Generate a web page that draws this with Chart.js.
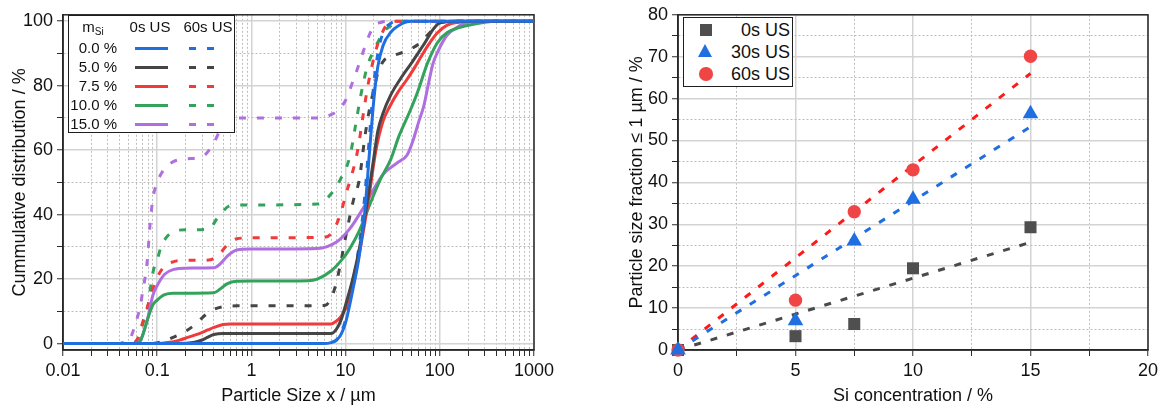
<!DOCTYPE html>
<html>
<head>
<meta charset="utf-8">
<title>Particle size distribution and sub-micron fraction</title>
<script src="https://cdn.jsdelivr.net/npm/chart.js@4.4.1/dist/chart.umd.min.js"></script>
<style>
  html, body { margin: 0; padding: 0; background: #fff; }
  #page { position: relative; width: 1163px; height: 407px; overflow: hidden;
          font-family: "Liberation Sans", Arial, sans-serif; color: #111; }
  canvas { position: absolute; top: 0; }
  #psd { left: 0; }
  #frac { left: 580px; }
  .box { position: absolute; background: #fff; border: 1.5px solid #1e1e1e; box-sizing: border-box; }
  .t { position: absolute; white-space: nowrap; }
</style>
</head>
<body>
<div id="page">
  <canvas id="psd" width="560" height="407"></canvas>
  <canvas id="frac" width="583" height="407"></canvas>
</div>
<script>
// ---------- Left panel: cumulative particle size distributions ----------
const sizeMajorTicks = [0.01, 0.1, 1, 10, 100, 1000];
const sizeTickLabels = ['0.01', '0.1', '1', '10', '100', '1000'];
const cumMajorTicks = [0, 20, 40, 60, 80, 100];
const cumMinorTicks = [10, 30, 50, 70, 90];

const siLabels = ['0.0 %', '5.0 %', '7.5 %', '10.0 %', '15.0 %'];
const siColors = ['#1f6fe0', '#454545', '#f03b3b', '#33a35c', '#b06fe0'];

// 0.0 % Si
const size_00_0s  = [0.01, 6, 7, 8, 9, 10, 12, 14, 16, 18, 20, 22, 25, 30, 40, 50, 1000];
const cum_00_0s   = [0, 0, 0.3, 1, 3, 6.5, 17, 27.5, 41, 60, 76, 86, 92.5, 96.5, 99.3, 100, 100];
const size_00_60s = [0.01, 6, 7, 8, 9, 10, 12, 14, 16, 18, 20, 22, 25, 30, 35, 1000];
const cum_00_60s  = [0, 0, 0.3, 1.2, 3.5, 7.5, 19, 31, 46, 65, 81, 90, 96.5, 99.3, 100, 100];

// 5.0 % Si
const size_05_0s  = [0.01, 0.15, 0.2, 0.25, 0.3, 0.35, 0.4, 0.5, 7, 8, 9, 10, 12, 14, 17, 20, 22, 25, 30, 40, 50, 60, 70, 85, 100, 150, 1000];
const cum_05_0s   = [0, 0, 0.1, 0.4, 1.1, 2.1, 2.8, 3.1, 3.1, 4.5, 7.5, 12, 20.5, 29.5, 44, 58, 66, 71.5, 77, 83, 87, 90.5, 93.5, 97.5, 99.5, 100, 100];
const size_05_60s = [0.01, 0.09, 0.1, 0.12, 0.15, 0.2, 0.25, 0.3, 0.35, 0.4, 0.5, 0.7, 6, 7, 8, 9, 10, 12, 14, 16, 18, 20, 22, 25, 30, 40, 50, 60, 70, 85, 100, 150, 1000];
const cum_05_60s  = [0, 0, 0.2, 0.8, 2, 3.8, 5.8, 8, 9.6, 10.6, 11.4, 11.7, 11.8, 14, 19, 26, 33, 44, 51, 64, 73, 79, 84, 87.5, 89, 90.3, 91.5, 93, 95, 97.5, 99.5, 100, 100];

// 7.5 % Si
const size_75_0s  = [0.01, 0.1, 0.13, 0.17, 0.21, 0.28, 0.35, 0.4, 0.5, 0.6, 7, 8, 9, 10, 12, 14, 16, 18, 21, 25, 30, 36, 45, 55, 75, 95, 120, 160, 200, 1000];
const cum_75_0s   = [0, 0, 0.3, 1, 1.9, 3.1, 4.3, 5, 5.9, 6.1, 6.1, 7, 8.5, 11, 18, 28, 37.5, 47, 60, 69, 74, 78, 82, 86, 92.5, 96.5, 98.8, 99.7, 100, 100];
const size_75_60s = [0.01, 0.055, 0.06, 0.065, 0.07, 0.08, 0.09, 0.1, 0.12, 0.15, 0.2, 0.35, 0.45, 0.55, 0.7, 1, 6, 7, 8, 9, 10, 11, 12.8, 14, 15, 17, 19, 22, 25, 28, 32, 1000];
const cum_75_60s  = [0, 0, 0.8, 3, 6.5, 12, 17, 20.5, 24, 25.4, 25.8, 25.9, 27.5, 30.5, 32.5, 32.8, 33, 34, 37, 41, 46, 50, 57, 63, 69, 79, 86, 93, 97, 99.3, 100, 100];

// 10.0 % Si
const size_10_0s  = [0.01, 0.06, 0.065, 0.07, 0.078, 0.09, 0.1, 0.12, 0.15, 0.4, 0.47, 0.55, 0.7, 1, 4, 5, 7, 9, 11, 14, 18, 23, 30, 37, 48, 58, 74, 95, 120, 160, 220, 300, 400, 1000];
const cum_10_0s   = [0, 0, 0.5, 2.5, 7, 12, 13.5, 15.2, 15.6, 15.8, 17, 18.5, 19.3, 19.4, 19.5, 20, 22.5, 25.8, 29.3, 35, 43, 50.5, 57, 64.5, 72, 78, 87, 93.5, 96.5, 98, 99, 99.7, 100, 100];
const size_10_60s = [0.01, 0.055, 0.06, 0.065, 0.07, 0.078, 0.09, 0.1, 0.11, 0.13, 0.16, 0.2, 0.35, 0.45, 0.6, 1, 5, 7.5, 9.2, 10, 11.3, 12.8, 14.5, 17, 20, 22, 25, 32, 40, 1000];
const cum_10_60s  = [0, 0, 0.8, 2.5, 6, 10, 22, 26, 30, 33.5, 35, 35.3, 35.5, 39.5, 42.8, 43, 43.3, 47.5, 52, 54, 59, 68, 77, 86, 91, 93.5, 96.5, 99, 100, 100];

// 15.0 % Si
const size_15_0s  = [0.01, 0.06, 0.065, 0.07, 0.078, 0.09, 0.1, 0.12, 0.15, 0.2, 0.4, 0.47, 0.55, 0.7, 1, 5, 8, 11, 15, 20, 25, 35, 45, 52, 60, 68, 75, 85, 95, 118, 150, 190, 250, 1000];
const cum_15_0s   = [0, 0, 0.5, 2.5, 7, 15, 18, 21.5, 23, 23.4, 23.5, 24.8, 27, 29, 29.3, 29.5, 31.5, 35.5, 41.5, 48, 52.5, 56, 58.5, 63, 69, 74, 80, 87, 90.5, 95.5, 98, 99.5, 100, 100];
const size_15_60s = [0.01, 0.04, 0.045, 0.05, 0.055, 0.06, 0.066, 0.07, 0.078, 0.084, 0.09, 0.1, 0.12, 0.15, 0.2, 0.3, 0.39, 0.47, 0.55, 0.7, 5.5, 7, 8, 10, 12, 14, 16, 18, 20, 24, 28, 1000];
const cum_15_60s  = [0, 0, 0.5, 0.8, 3.5, 7, 11.5, 16, 25, 37, 45, 50, 54.3, 56.5, 57.3, 58, 61.7, 66.5, 69.5, 70, 70, 71, 72, 75.5, 81.5, 87, 92, 96, 98.5, 99.7, 100, 100];

// ---------- Right panel: fraction of particles <= 1 µm ----------
const concMajorTicks = [0, 5, 10, 15, 20];
const concMinorTicks = [2.5, 7.5, 12.5, 17.5];
const fracMajorTicks = [0, 10, 20, 30, 40, 50, 60, 70, 80];
const fracMinorTicks = [5, 15, 25, 35, 45, 55, 65, 75];

const siConc   = [0, 5, 7.5, 10, 15];
const frac0s   = [0, 3.3, 6.2, 19.5, 29.3];
const frac30s  = [0, 7.0, 26.0, 36.0, 56.4];
const frac60s  = [0, 11.9, 33.0, 43.0, 70.1];

// linear fits through the origin
const fitConc  = [0, 15];
const fit0s    = [0, 25.7];
const fit30s   = [0, 53.3];
const fit60s   = [0, 66.0];

const usLabels = ['0s US', '30s US', '60s US'];
const usColors = ['#4f4f4f', '#1f6fe0', '#f04545'];
const fitColors = ['#4a4a4a', '#1f6fe0', '#ff1a1a'];

// ---------- shared styling ----------
Chart.defaults.font.family = "'Liberation Sans', Arial, sans-serif";
Chart.defaults.font.size = 18;
Chart.defaults.color = '#111';

const pts = (xs, ys) => xs.map((x, i) => ({ x, y: ys[i] }));

function axisStyle(majors, minors, labelFor, extra) {
  const isMinor = c => c.tick && !majors.includes(c.tick.value);
  return Object.assign({
    afterBuildTicks: s => {
      s.ticks = majors.concat(minors).sort((a, b) => a - b).map(v => ({ value: v }));
    },
    ticks: {
      autoSkip: false, maxRotation: 0, padding: 4, color: '#111',
      font: { size: 18 },
      callback: v => labelFor(v)
    },
    grid: {
      drawTicks: true, tickLength: 6,
      color: c => isMinor(c) ? '#bdbdbd' : '#d3d3d3',
      lineWidth: c => isMinor(c) ? 1 : 1.5,
      tickColor: '#2a2a2a', tickWidth: 1
    },
    border: {
      display: true, color: '#2a2a2a', width: 1.5,
      dash: c => isMinor(c) ? [2, 2] : []
    }
  }, extra);
}

const framePlugin = {
  id: 'frame',
  beforeDatasetsDraw(chart) {
    const { ctx, chartArea: a } = chart;
    ctx.save();
    ctx.strokeStyle = '#262626';
    ctx.lineWidth = 1.5;
    ctx.strokeRect(a.left, a.top, a.right - a.left, a.bottom - a.top);
    ctx.restore();
  }
};

// ---------- left chart ----------
const psdSeries = [
  [size_00_0s, cum_00_0s, size_00_60s, cum_00_60s],
  [size_05_0s, cum_05_0s, size_05_60s, cum_05_60s],
  [size_75_0s, cum_75_0s, size_75_60s, cum_75_60s],
  [size_10_0s, cum_10_0s, size_10_60s, cum_10_60s],
  [size_15_0s, cum_15_0s, size_15_60s, cum_15_60s]
];

const psdDatasets = [];
psdSeries.forEach((s, i) => {
  const common = {
    showLine: true, pointRadius: 0, borderWidth: 3, borderColor: siColors[i],
    cubicInterpolationMode: 'monotone', fill: false
  };
  psdDatasets.push(Object.assign({ label: siLabels[i] + ' 0s US', data: pts(s[0], s[1]), order: 1 }, common));
  psdDatasets.push(Object.assign({ label: siLabels[i] + ' 60s US', data: pts(s[2], s[3]), borderDash: [7, 11], order: 2 }, common));
});

new Chart(document.getElementById('psd'), {
  type: 'scatter',
  data: { datasets: psdDatasets },
  options: {
    responsive: false, animation: false,
    layout: { padding: { top: 12, right: 26, left: 0, bottom: 0 } },
    plugins: { legend: { display: false }, tooltip: { enabled: false } },
    scales: {
      x: axisStyle(sizeMajorTicks,
        sizeMajorTicks.slice(0, -1).flatMap(d => [2, 3, 4, 5, 6, 7, 8, 9].map(k => +(d * k).toPrecision(3))),
        v => { const i = sizeMajorTicks.indexOf(v); return i >= 0 ? sizeTickLabels[i] : ''; },
        { type: 'logarithmic', min: 0.01, max: 1000,
          afterFit: s => { s.height = 57; },
          title: { display: true, text: 'Particle Size x / µm', font: { size: 18 }, color: '#111', padding: { top: 0, bottom: 0 } } }),
      y: axisStyle(cumMajorTicks, cumMinorTicks,
        v => cumMajorTicks.includes(v) ? String(v) : '',
        { type: 'linear', min: -2, max: 102,
          afterFit: s => { s.width = 63; },
          title: { display: true, text: 'Cummulative distribution / %', font: { size: 18 }, color: '#111', padding: { top: 9, bottom: 0 } } })
    }
  },
  plugins: [framePlugin]
});

// ---------- right chart ----------
const fracSets = [frac0s, frac30s, frac60s];
const fitSets = [fit0s, fit30s, fit60s];
const markerStyles = [
  { pointStyle: 'rect', pointRadius: 8.5, order: 2 },
  { pointStyle: 'triangle', pointRadius: 9, order: 0 },
  { pointStyle: 'circle', pointRadius: 6.7, order: 1 }
];

const fracDatasets = [];
fracSets.forEach((ys, i) => {
  fracDatasets.push(Object.assign({
    label: usLabels[i], data: pts(siConc, ys), showLine: false,
    backgroundColor: usColors[i], borderWidth: 0, clip: false
  }, markerStyles[i]));
  fracDatasets.push({
    label: usLabels[i] + ' fit', data: pts(fitConc, fitSets[i]), showLine: true,
    pointRadius: 0, borderColor: fitColors[i], borderWidth: 3, borderDash: [7, 10], order: 3
  });
});

new Chart(document.getElementById('frac'), {
  type: 'scatter',
  data: { datasets: fracDatasets },
  options: {
    responsive: false, animation: false,
    layout: { padding: { top: 13, right: 15, left: 0, bottom: 0 } },
    plugins: { legend: { display: false }, tooltip: { enabled: false } },
    scales: {
      x: axisStyle(concMajorTicks, concMinorTicks,
        v => concMajorTicks.includes(v) ? String(v) : '',
        { type: 'linear', min: 0, max: 20,
          afterFit: s => { s.height = 57; },
          title: { display: true, text: 'Si concentration / %', font: { size: 18 }, color: '#111', padding: { top: 0, bottom: 0 } } }),
      y: axisStyle(fracMajorTicks, fracMinorTicks,
        v => fracMajorTicks.includes(v) ? String(v) : '',
        { type: 'linear', min: 0, max: 80,
          afterFit: s => { s.width = 98; },
          title: { display: true, text: 'Particle size fraction ≤ 1 µm / %', font: { size: 18 }, color: '#111', padding: { top: 46, bottom: 0 } } })
    }
  },
  plugins: [framePlugin]
});

// ---------- legends ----------
const page = document.getElementById('page');
function el(css, html) {
  const d = document.createElement('div');
  d.style.cssText = 'position:absolute;' + css;
  if (html !== undefined) d.innerHTML = html;
  page.appendChild(d);
  return d;
}

// size distribution legend (table of Si content vs. ultrasound time)
el('left:68px;top:15px;width:167px;height:118px;background:#fff;border:1.5px solid #1e1e1e;box-sizing:border-box;');
el('left:73px;top:17px;width:40px;text-align:center;font-size:15px;line-height:20px;', 'm<sub style="font-size:10px;vertical-align:-3px;">Si</sub>');
el('left:125px;top:17px;width:50px;text-align:center;font-size:15px;line-height:20px;', '0s US');
el('left:180px;top:17px;width:56px;text-align:center;font-size:15px;line-height:20px;', '60s US');
const rowY = [48, 67, 86, 105, 124];
siLabels.forEach((lab, i) => {
  const y = rowY[i];
  el(`left:62px;top:${y - 10}px;width:55px;text-align:right;font-size:15px;line-height:20px;`, lab);
  el(`left:135px;top:${y - 1.5}px;width:33px;height:3px;background:${siColors[i]};`);
  el(`left:189px;top:${y - 1.5}px;width:25px;height:3px;background:repeating-linear-gradient(90deg, ${siColors[i]} 0 7px, transparent 7px 18px);`);
});

// sub-micron fraction legend
el('left:683px;top:17px;width:110px;height:70px;background:#fff;border:1.5px solid #1e1e1e;box-sizing:border-box;');
const legY = [30, 52, 74];
usLabels.forEach((lab, i) => {
  const y = legY[i];
  if (i === 0) el(`left:700px;top:${y - 6}px;width:12px;height:12px;background:${usColors[i]};`);
  if (i === 1) el(`left:698px;top:${y - 8}px;width:0;height:0;border-left:7.8px solid transparent;border-right:7.8px solid transparent;border-bottom:13.5px solid ${usColors[i]};`);
  if (i === 2) el(`left:699.3px;top:${y - 6.7}px;width:13.4px;height:13.4px;border-radius:50%;background:${usColors[i]};`);
  el(`left:715px;top:${y - 11}px;width:75px;text-align:right;font-size:18px;line-height:22px;`, lab);
});
</script>
</body>
</html>
